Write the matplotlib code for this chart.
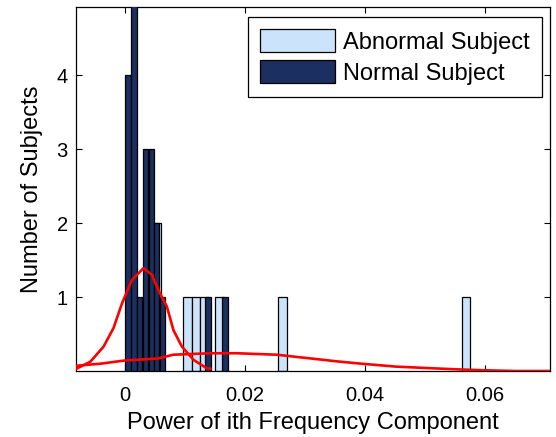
import matplotlib
matplotlib.use("Agg")
import matplotlib.pyplot as plt

plt.rcParams['font.family'] = ['Liberation Sans', 'DejaVu Sans']

# Histogram data (bin centers and counts)
abnormal_centers = [0.00527, 0.0104, 0.0118, 0.0132, 0.0157, 0.0262, 0.0568]
abnormal_counts = [2, 1, 1, 1, 1, 1, 1]
abnormal_width = 0.00137

normal_centers = [0.00048, 0.00145, 0.00242, 0.00338, 0.00435, 0.00522, 0.0062, 0.0138, 0.0166]
normal_counts = [4, 5, 1, 3, 3, 2, 1, 1, 1]
normal_width = 0.00092

# Fitted density curves
fit_normal_x = [-0.0082, -0.0080, -0.0058, -0.0036, -0.00195, -0.00055, 0.00112, 0.00305,
                0.00445, 0.00555, 0.00695, 0.00805, 0.00945, 0.0114, 0.0136, 0.0142]
fit_normal_y = [0.03, 0.036, 0.126, 0.33, 0.58, 0.91, 1.23, 1.39,
                1.30, 1.09, 0.87, 0.55, 0.33, 0.15, 0.036, 0.03]
fit_abnormal_x = [-0.0082, -0.0040, -0.0003, 0.0055, 0.0080, 0.0142, 0.0186, 0.0253,
                  0.0286, 0.0320, 0.0353, 0.0392, 0.0450, 0.0514, 0.0560, 0.0597, 0.0650, 0.0708]
fit_abnormal_y = [0.07, 0.10, 0.14, 0.17, 0.22, 0.24, 0.24, 0.22,
                  0.19, 0.16, 0.13, 0.10, 0.06, 0.036, 0.02, 0.01, 0.0, 0.0]

light = '#cce4fb'
dark = '#1b2f60'

fig = plt.figure(figsize=(5.56, 4.37), dpi=100)
ax = fig.add_axes([76/556, 66/437, 474/556, 364/437])

ax.bar(abnormal_centers, abnormal_counts, width=abnormal_width, color=light,
       edgecolor='black', linewidth=0.9, label='Abnormal Subject', zorder=2)
ax.bar(normal_centers, normal_counts, width=normal_width, color=dark,
       edgecolor='black', linewidth=0.9, label='Normal Subject', zorder=3)
ax.plot(fit_normal_x, fit_normal_y, color='red', linewidth=1.9, zorder=4)
ax.plot(fit_abnormal_x, fit_abnormal_y, color='red', linewidth=1.9, zorder=4)

ax.set_xlim(-0.0082, 0.0708)
ax.set_ylim(0, 4.92)
ax.set_xticks([0, 0.02, 0.04, 0.06])
ax.set_xticklabels(['0', '0.02', '0.04', '0.06'])
ax.set_yticks([1, 2, 3, 4])
ax.tick_params(direction='in', top=True, right=True, labelsize=14.5, length=4, width=0.8)
ax.tick_params(axis='x', pad=11)
ax.tick_params(axis='y', pad=6)
for s in ax.spines.values():
    s.set_linewidth(0.9)

ax.set_xlabel('Power of ith Frequency Component', fontsize=17, labelpad=5)
ax.set_ylabel('Number of Subjects', fontsize=17, labelpad=10)

leg = ax.legend(loc='upper right', bbox_to_anchor=(0.9825, 0.9734), borderaxespad=0,
                fontsize=17, handlelength=3.18, handleheight=1.14, labelspacing=0.28,
                handletextpad=0.31, borderpad=0.52, fancybox=False, framealpha=1,
                edgecolor='black')
leg.get_frame().set_linewidth(0.9)

fig.savefig('out.png', dpi=100)
